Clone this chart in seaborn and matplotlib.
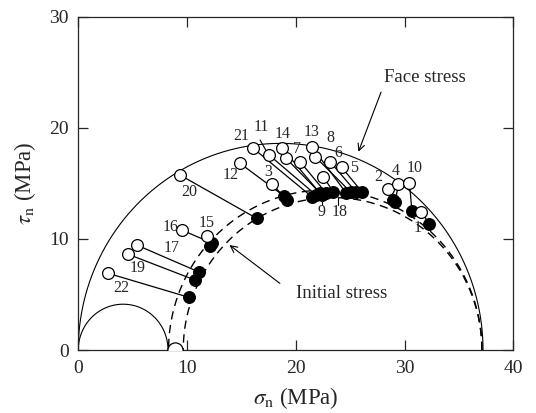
import numpy as np
import pandas as pd
import matplotlib
matplotlib.use("Agg")
import matplotlib.pyplot as plt
import seaborn as sns

# ---------------- data ----------------
point_ids = [str(i) for i in range(1, 23)]
face_x = [31.51, 28.51, 17.84, 29.43, 24.22, 23.14, 20.39, 21.77, 19.10, 30.44, 17.54,
          14.87, 21.52, 18.76, 11.81, 9.51, 5.37, 22.53, 4.60, 9.35, 16.09, 2.76]
face_y = [12.45, 14.46, 14.91, 14.91, 16.44, 16.95, 16.95, 17.40, 17.25, 15.06, 17.55,
          16.80, 18.24, 18.15, 10.26, 10.80, 9.45, 15.60, 8.61, 15.75, 18.15, 6.90]
init_x = [32.28, 28.94, 19.19, 29.12, 26.06, 25.54, 22.78, 25.08, 22.41, 30.66, 21.86,
          18.91, 24.62, 22.23, 12.11, 12.29, 11.10, 23.42, 10.73, 16.40, 21.46, 10.18]
init_y = [11.34, 13.50, 13.50, 13.35, 14.25, 14.22, 14.13, 14.18, 13.95, 12.54, 13.95,
          13.86, 14.13, 14.10, 9.36, 9.63, 7.02, 14.25, 6.30, 11.85, 13.80, 4.74]

# Mohr semicircles: left / right intersections with the sigma axis
circle_left = [0.0, 0.0, 8.3, 9.65]
circle_right = [8.25, 37.2, 37.1, 37.1]
circle_dashed = [False, False, True, True]

axis_point_x = [8.85]
axis_point_y = [0.0]

x_ticks = [0, 10, 20, 30, 40]
y_ticks = [0, 10, 20, 30]

# label positions (layout)
label_x = [31.21, 27.6, 17.44, 29.17, 25.35, 23.93, 20.11, 23.19, 22.38, 30.96, 16.8,
           14.04, 21.44, 18.82, 11.83, 8.48, 8.62, 24.06, 5.44, 10.18, 14.96, 3.93]
label_y = [10.98, 15.6, 16.02, 16.11, 16.38, 17.76, 18.05, 19.06, 12.42, 16.35, 20.07,
           15.75, 19.58, 19.40, 11.40, 11.03, 9.14, 12.42, 7.38, 14.22, 19.26, 5.55]

# ---------------- style ----------------
sns.set_style("ticks")
plt.rcParams["font.family"] = ["Liberation Serif", "DejaVu Serif"]
plt.rcParams["mathtext.fontset"] = "stix"

fig = plt.figure(figsize=(5.36, 4.13), dpi=100)
ax = fig.add_axes([0.146, 0.1525, 0.812, 0.807])

# circles
theta = np.linspace(0, np.pi, 400)
for L, R, dashed in zip(circle_left, circle_right, circle_dashed):
    c = (L + R) / 2
    r = (R - L) / 2
    df = pd.DataFrame({"x": c + r * np.cos(theta), "y": r * np.sin(theta)})
    sns.lineplot(data=df, x="x", y="y", sort=False, ax=ax, color="black",
                 lw=1.0 if dashed else 0.8,
                 linestyle=(0, (6, 4)) if dashed else "-", zorder=1)

# connecting lines
for fx, fy, ix, iy in zip(face_x, face_y, init_x, init_y):
    ax.plot([fx, ix], [fy, iy], color="black", lw=0.9, zorder=2)

df_face = pd.DataFrame({"x": face_x, "y": face_y})
df_init = pd.DataFrame({"x": init_x, "y": init_y})
sns.scatterplot(data=df_init, x="x", y="y", ax=ax, s=72, color="black",
                edgecolor="black", linewidth=0.8, zorder=3)
sns.scatterplot(data=df_face, x="x", y="y", ax=ax, s=72, color="white",
                edgecolor="black", linewidth=0.9, zorder=4)
sns.scatterplot(x=axis_point_x, y=axis_point_y, ax=ax, s=120, color="white",
                edgecolor="black", linewidth=0.9, zorder=4)

for t, lx, ly in zip(point_ids, label_x, label_y):
    ax.text(lx, ly, t, ha="center", va="center", fontsize=11.5, zorder=6)

# leader lines for labels 9, 18, 11
ax.plot([22.38, 22.38], [13.05, 13.5], color="black", lw=0.8)
ax.plot([23.91, 23.91], [13.05, 13.8], color="black", lw=0.8)
ax.plot([16.71, 17.32], [18.9, 17.85], color="black", lw=0.8)

# annotations
ax.text(31.9, 24.57, "Face stress", ha="center", va="center", fontsize=13.5)
ax.annotate("", xy=(25.75, 17.85), xytext=(27.83, 23.22),
            arrowprops=dict(arrowstyle="->", color="black", lw=0.8,
                            shrinkA=0, shrinkB=0, mutation_scale=12))
ax.text(24.16, 5.13, "Initial stress", ha="center", va="center", fontsize=13.5)
ax.annotate("", xy=(13.9, 9.45), xytext=(18.53, 6.0),
            arrowprops=dict(arrowstyle="->", color="black", lw=0.8,
                            shrinkA=0, shrinkB=0, mutation_scale=12))

ax.set_xlim(0, 40)
ax.set_ylim(0, 30)
ax.set_xticks(x_ticks)
ax.set_yticks(y_ticks)
ax.tick_params(direction="in", length=7, width=0.9, top=True, right=True,
               labelsize=14, pad=7)
for s in ax.spines.values():
    s.set_linewidth(0.9)
    s.set_visible(True)
ax.set_xlabel(r"$\sigma_{\rm n}$ (MPa)", fontsize=16.5, labelpad=6)
ax.set_ylabel(r"$\tau_{\rm n}$ (MPa)", fontsize=16.5, labelpad=8)

fig.savefig("out.png", dpi=100)
